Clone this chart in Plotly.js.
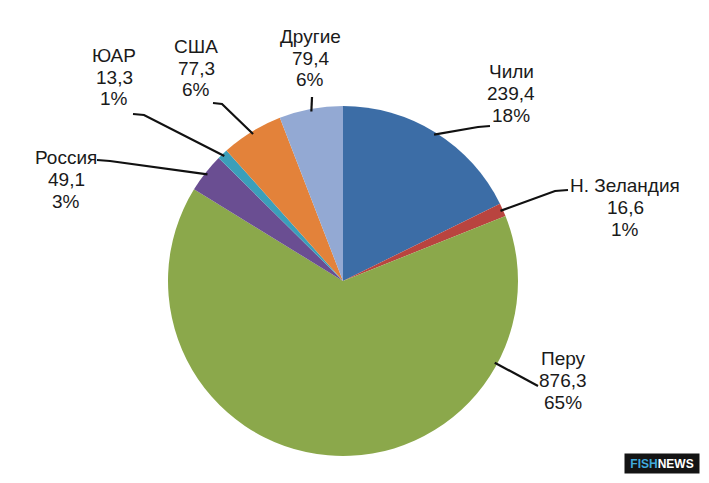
<!DOCTYPE html>
<html>
<head>
<meta charset="utf-8">
<script src="https://cdn.plot.ly/plotly-3.0.1.min.js"></script>
<style>html,body{margin:0;padding:0;background:#fff;}#chart{width:709px;height:483px;}</style>
</head>
<body>
<div id="chart"></div>
<script>
// ---- data ----
var countries = ["Чили", "Н. Зеландия", "Перу", "Россия", "ЮАР", "США", "Другие"];
var values = [239.4, 16.6, 876.3, 49.1, 13.3, 77.3, 79.4];
var valueLabels = ["239,4", "16,6", "876,3", "49,1", "13,3", "77,3", "79,4"];
var percentLabels = ["18%", "1%", "65%", "3%", "1%", "6%", "6%"];
var colors = ["#3C6DA6", "#B9443F", "#8BA84B", "#6A4E92", "#3B9FBA", "#E3823A", "#93A9D3"];

// ---- layout (pixels) ----
var W = 709, H = 483;
var CX = 343, CY = 281, R = 175;
var LINE = 21.7;
// label text centres (middle line)
var labelPos = [[511, 93.5], [625, 207.5], [563, 380.5], [66, 179.5], [114, 77], [196, 68], [310, 58]];
// leader-line points on the label side (from label end towards the pie)
var leaderPts = [
  [[490, 126], [478, 127]],
  [[568, 190], [555, 191]],
  [[538, 386]],
  [[97, 160], [110, 161]],
  [[133, 114], [144, 115]],
  [[213, 103], [222, 104]],
  [[312, 97]]
];

function px(x) { return x / W; }
function py(y) { return 1 - y / H; }

var font = {family: "Liberation Sans, Arial, sans-serif", size: 19, color: "#1a1a1a"};
var total = values.reduce(function (a, b) { return a + b; }, 0);
var shapes = [], annotations = [];
var cum = 0;
for (var i = 0; i < values.length; i++) {
  var frac = values[i] / total;
  var a0 = cum * 360, a1 = (cum + frac) * 360;
  var ang = (a0 + a1) / 2;
  var pts = leaderPts[i];
  var last = pts[pts.length - 1];
  if (frac > 0.5) {
    // large slice: aim leader at the arc point facing the label
    var t = Math.atan2(last[0] - CX, -(last[1] - CY)) * 180 / Math.PI;
    if (t < 0) t += 360;
    ang = Math.min(Math.max(t, a0 + 5), a1 - 5);
  }
  cum += frac;
  var rad = ang * Math.PI / 180;
  var ex = CX + R * 0.985 * Math.sin(rad), ey = CY - R * 0.985 * Math.cos(rad);
  var path = "M" + px(pts[0][0]) + "," + py(pts[0][1]);
  for (var k = 1; k < pts.length; k++) path += " L" + px(pts[k][0]) + "," + py(pts[k][1]);
  path += " L" + px(ex) + "," + py(ey);
  shapes.push({type: "path", xref: "paper", yref: "paper", path: path,
    line: {color: "#111111", width: 2.2}});
  var lines = [countries[i], valueLabels[i], percentLabels[i]];
  for (var j = 0; j < 3; j++) {
    annotations.push({
      xref: "paper", yref: "paper", x: px(labelPos[i][0]), y: py(labelPos[i][1] + (j - 1) * LINE),
      xanchor: "center", yanchor: "middle", showarrow: false, align: "center",
      text: lines[j], font: font
    });
  }
}

// watermark
annotations.push({
  xref: "paper", yref: "paper", x: px(662), y: py(463.5), xanchor: "center", yanchor: "middle",
  showarrow: false, width: 70, height: 15, bgcolor: "#141414", borderpad: 2,
  text: "<b><span style='color:#3fa9dc'>FISH</span>NEWS</b>",
  font: {family: "Liberation Sans, Arial, sans-serif", size: 12, color: "#ffffff"}
});

var trace = {
  type: "pie",
  labels: countries,
  values: values,
  sort: false,
  direction: "clockwise",
  rotation: 0,
  textinfo: "none",
  hoverinfo: "label+value+percent",
  marker: {colors: colors, line: {width: 0}},
  domain: {x: [px(CX - R), px(CX + R)], y: [py(CY + R), py(CY - R)]},
  showlegend: false
};

Plotly.newPlot("chart", [trace], {
  width: W, height: H,
  margin: {l: 0, r: 0, t: 0, b: 0},
  paper_bgcolor: "#ffffff",
  showlegend: false,
  shapes: shapes,
  annotations: annotations
}, {displayModeBar: false, staticPlot: true});
</script>
</body>
</html>
